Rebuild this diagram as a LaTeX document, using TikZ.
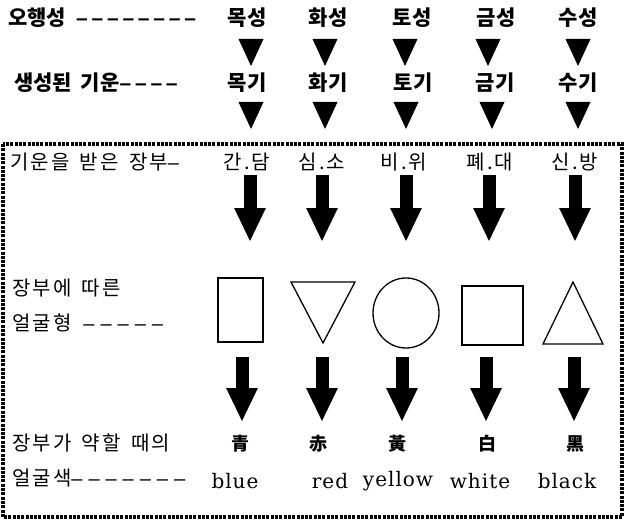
\documentclass[tikz,border=0pt]{standalone}
\usepackage{fontspec}
\setmainfont{DejaVu Serif}
\newfontfamily\kr{Noto Sans CJK KR}
\newfontfamily\krsp[LetterSpace=10]{Noto Sans CJK KR}
\newfontfamily\dashfont[LetterSpace=30]{Liberation Sans}
\newfontfamily\dashtop[LetterSpace=18]{Liberation Sans}
\newfontfamily\latsp[LetterSpace=5]{DejaVu Serif}
\usetikzlibrary{arrows.meta}
\tikzset{
  lbl/.style={anchor=west, inner sep=0pt, font=\krsp\fontsize{20}{20}\selectfont},
  toplbl/.style={anchor=west, inner sep=0pt, font=\kr\bfseries\fontsize{21}{21}\selectfont},
  toptxt/.style={inner sep=0pt, font=\kr\bfseries\fontsize{21}{21}\selectfont},
  boxtxt/.style={inner sep=0pt, font=\krsp\fontsize{20}{20}\selectfont},
  hanja/.style={inner sep=0pt, font=\kr\bfseries\fontsize{18}{18}\selectfont},
  eng/.style={inner sep=0pt, font=\latsp\fontsize{20}{20}\selectfont},
  tri/.pic={\fill[black] (-12.5,0) -- (12.5,0) -- (0,27) -- cycle;},
  bigarrow/.style={line width=13pt, -{Triangle[width=29pt,length=34pt]}},
  shapeline/.style={line width=1.3pt},
  frame/.style={line width=4pt, dash pattern=on 3pt off 1.3pt}
}
\begin{document}
\begin{tikzpicture}[x=1pt,y=-1pt]
\useasboundingbox (0,0) rectangle (626,524);
% row 1
\node[toplbl] (l1) at (8,18) {오행성\hspace{10pt}{\dashtop ––––––––}};
\node[toptxt] (a1) at (247,18) {목성};
\node[toptxt] (a2) at (328,18) {화성};
\node[toptxt] (a3) at (412,18) {토성};
\node[toptxt] (a4) at (496,18) {금성};
\node[toptxt] (a5) at (578,18) {수성};
\pic at (251,39) {tri}; \pic at (325,39) {tri}; \pic at (405,39) {tri}; \pic at (488,39) {tri}; \pic at (578,39) {tri};
% row 2
\node[toplbl] (l2) at (14,83) {생성된\hspace{4pt} 기운{\dashtop ––––}};
\node[toptxt] (b1) at (247,83) {목기};
\node[toptxt] (b2) at (328,83) {화기};
\node[toptxt] (b3) at (413,83) {토기};
\node[toptxt] (b4) at (495,83) {금기};
\node[toptxt] (b5) at (578,83) {수기};
\pic at (251,102) {tri}; \pic at (325,102) {tri}; \pic at (406,102) {tri}; \pic at (492,102) {tri}; \pic at (578,102) {tri};
% frame
\draw[frame] (3,144) rectangle (622,517);
% row 3
\node[lbl] (l3) at (10,162) {기운을\hspace{4pt} 받은\hspace{4pt} 장부{\dashfont –}};
\node[boxtxt] (c1) at (247,162) {간.담};
\node[boxtxt] (c2) at (322,162) {심.소};
\node[boxtxt] (c3) at (404,162) {비.위};
\node[boxtxt] (c4) at (490,162) {폐.대};
\node[boxtxt] (c5) at (575,162) {신.방};
% arrows 1
\foreach \i/\x in {1/250,2/322,3/406,4/489,5/575}{
  \coordinate (p\i) at (\x,175);
  \coordinate (q\i) at (\x,242);
  \draw[bigarrow] (p\i) -- (q\i);
}
% shapes
\node[lbl] (l4) at (12,288) {장부에\hspace{4pt} 따른};
\node[lbl] (l5) at (12,323) {얼굴형\hspace{12pt}{\dashfont –––––}};
\draw[shapeline] (218,278) rectangle (263,342);
\draw[shapeline] (291,282) -- (355,282) -- (323,343) -- cycle;
\draw[shapeline] (406,313) ellipse [x radius=33, y radius=35];
\draw[shapeline] (462,286) rectangle (523,345);
\draw[shapeline] (543,344) -- (603,344) -- (573,282) -- cycle;
% arrows 2
\foreach \i/\x in {1/242,2/322,3/402,4/486,5/574}{
  \coordinate (r\i) at (\x,357);
  \coordinate (s\i) at (\x,422);
  \draw[bigarrow] (r\i) -- (s\i);
}
% row 5
\node[lbl] (l6) at (12,443) {장부가\hspace{4pt} 약할\hspace{4pt} 때의};
\node[lbl] (l7) at (12,478) {얼굴색{\dashfont –––––––}};
\node[hanja] (h1) at (240,444) {青};
\node[hanja] (h2) at (318,444) {赤};
\node[hanja] (h3) at (397,444) {黃};
\node[hanja] (h4) at (487,444) {白};
\node[hanja] (h5) at (575,444) {黑};
\node[eng] (e1) at (235,481) {blue};
\node[eng] (e2) at (330,481) {red};
\node[eng] (e3) at (398,481) {yellow};
\node[eng] (e4) at (480,481) {white};
\node[eng] (e5) at (567,481) {black};
\end{tikzpicture}
\end{document}
